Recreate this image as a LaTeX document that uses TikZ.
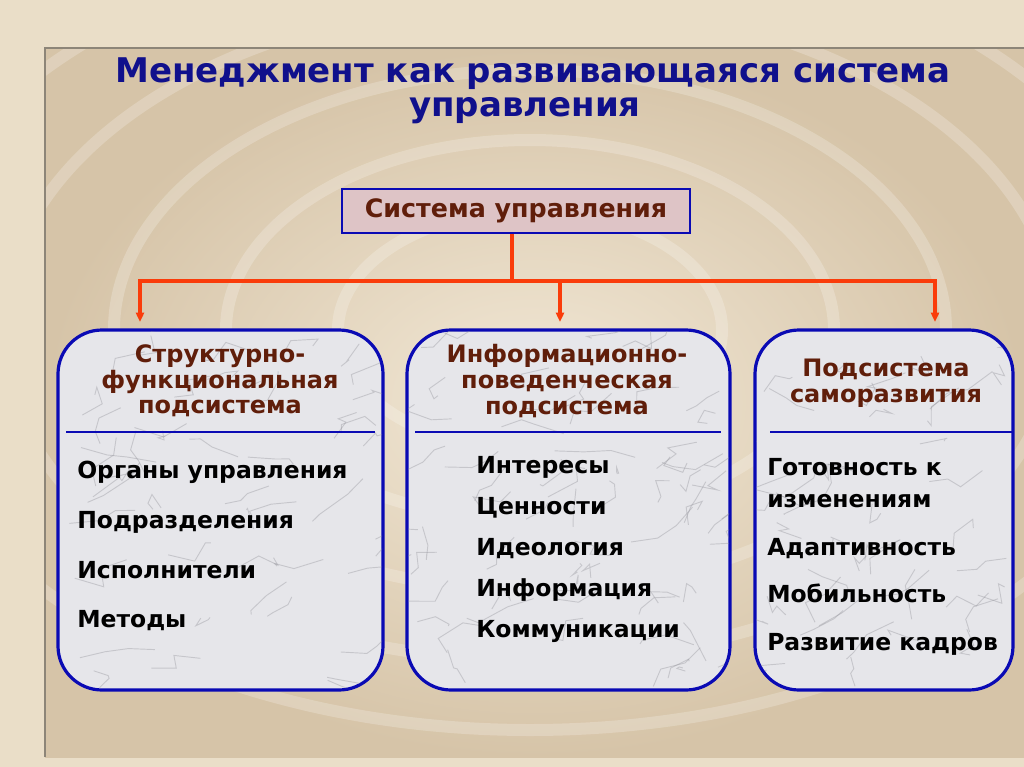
\documentclass[tikz,border=0pt]{standalone}
\usepackage{fontspec}
\setmainfont{DejaVu Sans}
\usetikzlibrary{arrows.meta}
\definecolor{titleblue}{RGB}{16,16,140}
\definecolor{headbrown}{RGB}{96,30,10}
\definecolor{linkred}{RGB}{250,60,10}
\definecolor{edgeblue}{RGB}{10,10,180}
\definecolor{marble}{RGB}{230,230,234}
\definecolor{vein}{RGB}{140,140,148}
\definecolor{pinkmarble}{RGB}{222,196,198}
\definecolor{frametan}{RGB}{234,222,200}
\definecolor{paneltan}{RGB}{214,196,168}
\definecolor{panelcream}{RGB}{242,232,214}
\begin{document}
\begin{tikzpicture}[x=0.75pt,y=-0.75pt,>={Triangle[length=7pt,width=6pt]},
  subbox/.style={draw=edgeblue,line width=2.4pt,fill=marble,rounded corners=33pt},
  headtext/.style={text=headbrown,font=\bfseries\fontsize{18}{19.3}\selectfont,align=center},
  itemtext/.style={anchor=base west,inner sep=0pt,font=\bfseries\fontsize{17.6}{20}\selectfont},
  titletext/.style={anchor=base,text=titleblue,font=\bfseries\fontsize{25.5}{28}\selectfont},
  link/.style={draw=linkred,line width=2.5pt},
  sepline/.style={draw=edgeblue,line width=2pt},
  veinline/.style={draw=vein,line width=0.7pt,opacity=0.35}]
\useasboundingbox (0,0) rectangle (1024,767);

% background and frame
\fill[frametan] (0,0) rectangle (1024,767);
\shade[inner color=panelcream,outer color=paneltan] (45,48) rectangle (1024,757);
\begin{scope}
\clip (45,48) rectangle (1024,757);
\foreach \r in {120,190,260,330,400}
  \draw[white,opacity=0.22,line width=9pt] (530,330) ellipse ({\r*1.6} and \r);
\end{scope}
\draw[frametan!60!black,line width=1pt] (45,757) -- (45,48) -- (1024,48);

% title
\node[titletext] (title1) at (533,83) {Менеджмент как развивающаяся система};
\node[titletext] (title2) at (525,117) {управления};

% top box
\node[draw=edgeblue,line width=2.2pt,fill=pinkmarble,minimum width=261pt,minimum height=33pt,
  text=headbrown,font=\bfseries\fontsize{19}{21}\selectfont] (sys) at (516,211) {Система управления};

% subsystem boxes
\node[subbox,minimum width=243.75pt,minimum height=270pt] (sub1) at (220.5,510) {};
\node[subbox,minimum width=242.25pt,minimum height=270pt] (sub2) at (568.5,510) {};
\node[subbox,minimum width=193.5pt,minimum height=270pt] (sub3) at (884,510) {};

% marble veins
\pgfmathsetseed{11}
\begin{scope}
\clip[rounded corners=33pt] (59,331) rectangle (382,689) (408,331) rectangle (729,689) (756,331) rectangle (1012,689);
\foreach \i in {1,...,160} {
  \pgfmathsetmacro{\xa}{60+rnd*950}
  \pgfmathsetmacro{\ya}{330+rnd*360}
  \draw[veinline] (\xa,\ya) -- ++({rnd*40-10},{rnd*30-20}) -- ++({rnd*40-10},{rnd*30-20}) -- ++({rnd*40-10},{rnd*30-20});
}
\end{scope}

% connectors
\coordinate (j) at (512,281);
\coordinate (t1) at (140,322);
\coordinate (t2) at (560,322);
\coordinate (t3) at (935,322);
\draw[link] (sys.south -| j) -- (j);
\draw[link,->] (j) -| (t1);
\draw[link,->] (j) -| (t2);
\draw[link,->] (j) -| (t3);

% headings
\node[headtext] (head1) at (220,381) {Структурно-\\функциональная\\подсистема};
\node[headtext] (head2) at (567,381) {Информационно-\\поведенческая\\подсистема};
\node[headtext] (head3) at (886,383) {Подсистема\\саморазвития};
\draw[sepline] (66,432) -- (375,432);
\draw[sepline] (415,432) -- (721,432);
\draw[sepline] (770,432) -- (1012,432);

% items
\node[itemtext] (a1) at (77,478) {Органы управления};
\node[itemtext] (a2) at (77,528) {Подразделения};
\node[itemtext] (a3) at (77,578) {Исполнители};
\node[itemtext] (a4) at (77,627) {Методы};
\node[itemtext] (b1) at (476,473) {Интересы};
\node[itemtext] (b2) at (476,514) {Ценности};
\node[itemtext] (b3) at (476,555) {Идеология};
\node[itemtext] (b4) at (476,596) {Информация};
\node[itemtext] (b5) at (476,637) {Коммуникации};
\node[itemtext] (c1) at (767,475) {Готовность к};
\node[itemtext] (c2) at (767,507) {изменениям};
\node[itemtext] (c3) at (767,555) {Адаптивность};
\node[itemtext] (c4) at (767,602) {Мобильность};
\node[itemtext] (c5) at (767,650) {Развитие кадров};
\end{tikzpicture}
\end{document}
